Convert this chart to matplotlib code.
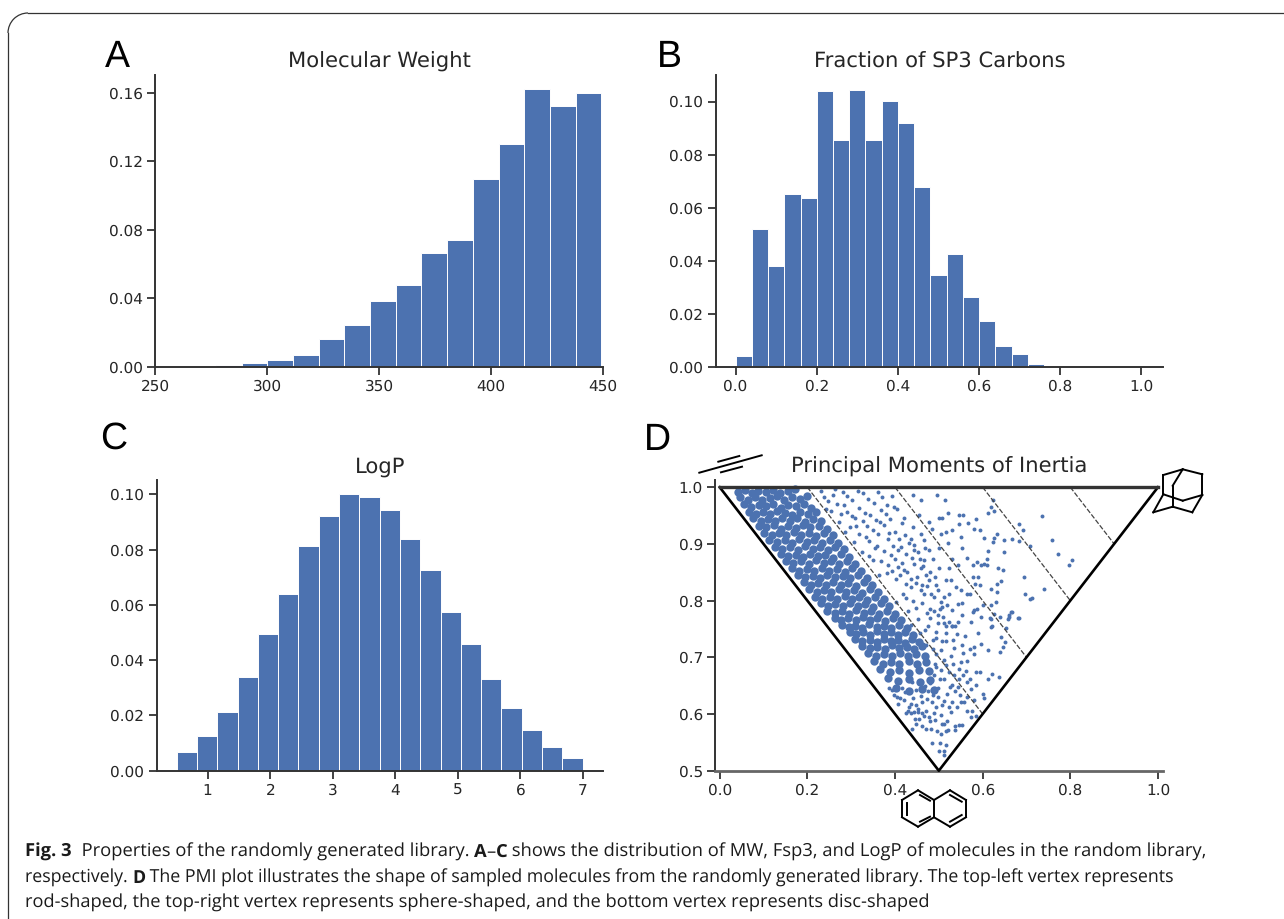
import numpy as np
import matplotlib
matplotlib.use("Agg")
import matplotlib.pyplot as plt
from matplotlib.patches import Arc

W, H = 1284, 919
BLUE = "#4c72b0"
TEXT = "#262626"

# panel A
mw_start, mw_width = 277.2, 11.47
mw_heights = [0.001, 0.0021, 0.0042, 0.0068, 0.0165, 0.0245, 0.0385, 0.048, 0.0665,
              0.074, 0.1097, 0.13, 0.1622, 0.1525, 0.1598]
mw_ticks = [250, 300, 350, 400, 450]
mw_yticks = [0.00, 0.04, 0.08, 0.12, 0.16]

# panel B
fsp3_start, fsp3_width = 0.0, 0.04
fsp3_heights = [0.0042, 0.052, 0.0381, 0.0651, 0.0635, 0.104, 0.0855, 0.1045, 0.0856,
                0.1003, 0.0921, 0.0677, 0.0347, 0.0425, 0.0265, 0.0173, 0.008, 0.0048, 0.0012]
fsp3_ticks = [0.0, 0.2, 0.4, 0.6, 0.8, 1.0]
fsp3_yticks = [0.00, 0.02, 0.04, 0.06, 0.08, 0.10]

# panel C
logp_start, logp_width = 0.504, 0.3245
logp_heights = [0.0068, 0.0125, 0.0213, 0.034, 0.0494, 0.0641, 0.0813, 0.092, 0.1, 0.0992,
                0.0942, 0.0837, 0.0728, 0.0574, 0.0458, 0.0333, 0.0226, 0.0147, 0.0086, 0.0047]
logp_ticks = [1, 2, 3, 4, 5, 6, 7]
logp_yticks = [0.00, 0.02, 0.04, 0.06, 0.08, 0.10]

# panel D. sparse = single dots, core = the dense band
pmi_sparse = [
    (.736, .949), (.758, .906), (.773, .882), (.803, .871), (.797, .863), (.695, .842), (.739, .821),
    (.697, .812), (.713, .805), (.707, .802), (.684, .935), (.693, .924), (.668, .908), (.684, .905),
    (.649, .907), (.625, .910), (.624, .904), (.649, .885), (.633, .918), (.709, .896), (.613, .954),
    (.626, .958), (.619, .965), (.623, .978), (.585, .944), (.581, .927), (.593, .925), (.602, .911),
    (.613, .887), (.611, .873), (.610, .862), (.636, .857), (.647, .854), (.579, .863), (.596, .863),
    (.588, .868), (.604, .865), (.564, .876), (.554, .893), (.550, .912), (.567, .936), (.546, .935),
    (.546, .951), (.555, .951), (.521, .954), (.508, .946), (.501, .946), (.514, .977), (.495, .987),
    (.459, .977), (.440, .987), (.393, .985), (.578, .842), (.590, .842), (.643, .834), (.632, .830),
    (.620, .821), (.633, .816), (.593, .827), (.582, .830), (.630, .798), (.619, .793), (.666, .780),
    (.661, .774), (.681, .770), (.657, .768), (.640, .771), (.617, .770), (.621, .755), (.579, .780),
    (.600, .792), (.573, .762), (.552, .774), (.554, .795), (.543, .794), (.571, .812), (.550, .818),
    (.539, .824), (.527, .836), (.516, .836), (.565, .812), (.588, .786), (.531, .755), (.512, .760),
    (.497, .775), (.508, .789), (.489, .807), (.512, .807), (.493, .827), (.523, .857), (.501, .857),
    (.481, .851), (.543, .862), (.531, .874), (.520, .901), (.501, .892), (.478, .889), (.466, .907),
    (.485, .927), (.478, .939), (.455, .951), (.504, .918), (.531, .924), (.516, .921), (.459, .918),
    (.440, .930), (.420, .945), (.405, .962), (.436, .909), (.413, .895), (.443, .889), (.466, .871),
    (.443, .865), (.420, .854), (.451, .842), (.478, .836), (.459, .818), (.436, .824), (.481, .786),
    (.462, .795),
    (.485, .549), (.503, .548), (.516, .545), (.500, .534), (.512, .535), (.512, .528), (.439, .574),
    (.447, .582), (.462, .578), (.470, .574), (.483, .574), (.495, .570), (.504, .565), (.516, .570),
    (.521, .572), (.537, .578), (.536, .572), (.546, .580), (.552, .580), (.424, .602), (.429, .606),
    (.436, .601), (.452, .604), (.455, .592), (.461, .601), (.470, .606), (.478, .595), (.488, .601),
    (.504, .598), (.519, .588), (.527, .604), (.542, .612), (.550, .621), (.564, .605), (.575, .605),
    (.573, .594), (.584, .597), (.386, .645), (.398, .633), (.405, .630), (.417, .645), (.420, .624),
    (.436, .617), (.447, .615), (.462, .621), (.473, .627), (.485, .621), (.497, .630), (.508, .615),
    (.519, .636), (.531, .651), (.543, .648), (.565, .657), (.565, .630), (.581, .624), (.601, .636),
    (.603, .628), (.585, .651), (.612, .662), (.585, .674), (.593, .674), (.621, .670), (.637, .665),
    (.581, .706), (.612, .712), (.640, .709), (.596, .724), (.581, .718), (.570, .715), (.646, .718),
    (.650, .727), (.641, .736), (.559, .737), (.589, .742), (.620, .754), (.654, .751), (.660, .771),
    (.665, .780), (.683, .770), (.627, .777), (.620, .768), (.597, .771), (.581, .783), (.543, .762),
    (.531, .756), (.516, .742), (.493, .745), (.486, .730), (.504, .712), (.550, .692), (.523, .674),
    (.546, .680), (.535, .668), (.504, .677), (.493, .683), (.481, .654), (.497, .645), (.458, .654),
    (.447, .642), (.439, .656),
    (.232, .993), (.258, .986), (.281, .991), (.303, .978), (.327, .989), (.352, .972), (.371, .983),
    (.243, .962), (.267, .971), (.291, .957), (.318, .964), (.344, .951), (.368, .960), (.389, .944),
    (.272, .938), (.298, .929), (.326, .941), (.349, .925), (.376, .933), (.401, .921), (.417, .937),
    (.307, .903), (.333, .912), (.358, .897), (.384, .908), (.408, .889), (.431, .902), (.452, .886),
    (.341, .878), (.367, .869), (.391, .881), (.417, .866), (.438, .876), (.463, .861), (.487, .874),
    (.381, .848), (.402, .838), (.428, .851), (.449, .831), (.471, .845), (.497, .819), (.518, .792),
    (.418, .812), (.441, .799), (.467, .811), (.488, .782), (.509, .771), (.529, .783), (.541, .741),
    (.452, .768), (.476, .756), (.498, .761), (.517, .728), (.535, .716), (.552, .722), (.565, .693),
    (.471, .721), (.493, .706), (.512, .695), (.528, .702), (.547, .661), (.561, .676), (.574, .644),
    (.248, .975), (.276, .952), (.309, .946), (.337, .931), (.362, .918), (.395, .897), (.424, .882),
    (.354, .892), (.383, .862), (.411, .846), (.437, .838), (.459, .857), (.483, .812), (.506, .798),
    (.429, .781), (.457, .742), (.472, .778), (.494, .734), (.516, .756), (.532, .731), (.556, .708),
    (.511, .661), (.526, .647), (.488, .668), (.476, .641), (.459, .631), (.441, .628), (.422, .638),
    (.408, .618), (.493, .612), (.531, .622), (.549, .634), (.512, .582), (.479, .587), (.445, .592),
    (.238, .982), (.264, .996), (.291, .984), (.315, .993), (.339, .979), (.361, .991), (.382, .969),
    (.253, .958), (.284, .968), (.302, .949), (.331, .955), (.356, .943), (.379, .952), (.398, .965),
    (.286, .921), (.312, .932), (.318, .918), (.341, .905), (.366, .939), (.387, .919), (.409, .908),
    (.324, .886), (.349, .871), (.375, .887), (.399, .873), (.422, .916), (.444, .898), (.468, .892),
    (.363, .845), (.393, .853), (.408, .859), (.426, .829), (.456, .873), (.473, .826), (.491, .841),
    (.403, .797), (.424, .805), (.447, .787), (.462, .828), (.479, .769), (.502, .785), (.523, .812),
    (.437, .757), (.451, .729), (.469, .748), (.486, .714), (.508, .729), (.524, .762), (.538, .755),
    (.474, .694), (.491, .689), (.503, .661), (.517, .687), (.533, .689), (.555, .668), (.571, .661),
    (.486, .633), (.468, .649), (.453, .609), (.512, .623), (.524, .612), (.538, .641), (.558, .621),
    (.393, .642), (.411, .628), (.431, .612), (.443, .603), (.466, .596), (.491, .589), (.508, .583),
]
pmi_core = [
    (.041, .992), (.057, .995), (.073, .990), (.088, .994), (.106, .991), (.121, .995), (.138, .989), (.156, .993), (.172, .996),
    (.047, .982), (.064, .978), (.081, .983), (.096, .977), (.114, .981), (.130, .984), (.147, .977), (.165, .982), (.183, .979), (.199, .985),
    (.056, .970), (.071, .965), (.089, .969), (.105, .966), (.122, .971), (.139, .964), (.157, .968), (.174, .966), (.192, .971), (.209, .964),
    (.066, .957), (.083, .953), (.098, .956), (.115, .952), (.131, .958), (.149, .954), (.166, .951), (.183, .957), (.201, .953), (.220, .956),
    (.077, .945), (.094, .941), (.110, .944), (.126, .940), (.143, .946), (.160, .941), (.177, .945), (.194, .939), (.212, .944), (.231, .941),
    (.090, .932), (.106, .929), (.123, .933), (.139, .927), (.156, .931), (.173, .928), (.190, .933), (.207, .929), (.226, .931), (.245, .927),
    (.102, .920), (.119, .916), (.135, .919), (.152, .915), (.169, .921), (.186, .916), (.203, .919), (.220, .914), (.238, .919), (.258, .916),
    (.113, .907), (.131, .903), (.148, .906), (.164, .902), (.182, .908), (.199, .903), (.216, .906), (.233, .901), (.251, .907), (.270, .902),
    (.127, .895), (.143, .891), (.160, .894), (.178, .890), (.194, .896), (.212, .891), (.229, .894), (.247, .889), (.264, .895), (.283, .891),
    (.139, .882), (.156, .878), (.173, .881), (.190, .877), (.207, .883), (.224, .878), (.241, .881), (.259, .876), (.277, .882), (.296, .877),
    (.152, .870), (.168, .866), (.186, .869), (.203, .865), (.220, .871), (.237, .866), (.254, .869), (.272, .864), (.290, .870), (.309, .865),
    (.164, .857), (.181, .853), (.199, .856), (.216, .852), (.233, .858), (.250, .853), (.267, .856), (.285, .851), (.303, .857), (.322, .852),
    (.179, .845), (.195, .841), (.212, .844), (.229, .840), (.246, .846), (.263, .841), (.281, .844), (.298, .839), (.316, .845), (.335, .840),
    (.192, .832), (.208, .828), (.225, .831), (.242, .827), (.259, .833), (.276, .828), (.293, .831), (.311, .826), (.329, .832), (.348, .827),
    (.204, .820), (.221, .816), (.238, .819), (.255, .815), (.272, .821), (.289, .816), (.306, .819), (.324, .814), (.342, .820), (.361, .815),
    (.217, .807), (.234, .803), (.251, .806), (.268, .802), (.285, .808), (.302, .803), (.319, .806), (.337, .801), (.355, .807), (.374, .802),
    (.231, .795), (.247, .791), (.264, .794), (.281, .790), (.298, .796), (.315, .791), (.332, .794), (.350, .789), (.368, .795), (.387, .790),
    (.246, .782), (.262, .778), (.278, .781), (.295, .777), (.312, .783), (.329, .778), (.346, .781), (.364, .776), (.382, .782), (.401, .777),
    (.262, .770), (.277, .766), (.293, .769), (.310, .765), (.326, .771), (.343, .766), (.360, .769), (.378, .764), (.396, .770), (.414, .765),
    (.279, .757), (.294, .753), (.309, .756), (.325, .752), (.341, .758), (.358, .753), (.374, .756), (.392, .751), (.409, .757), (.427, .752),
    (.297, .745), (.312, .741), (.327, .744), (.342, .740), (.358, .746), (.374, .741), (.390, .744), (.407, .739), (.423, .745), (.441, .740),
    (.309, .732), (.325, .728), (.343, .731), (.358, .727), (.375, .733), (.391, .728), (.406, .731), (.422, .726), (.438, .732), (.455, .727),
    (.324, .720), (.342, .716), (.359, .719), (.377, .715), (.393, .721), (.410, .716), (.427, .719), (.444, .714), (.462, .720),
    (.338, .707), (.357, .703), (.375, .706), (.393, .702), (.411, .708), (.430, .703), (.447, .706), (.468, .702),
    (.352, .693), (.372, .689), (.391, .692), (.410, .688), (.431, .694), (.451, .689), (.471, .691),
    (.366, .679), (.388, .674), (.409, .678), (.432, .673), (.454, .677), (.478, .675),
    (.385, .663), (.408, .658), (.433, .661), (.456, .657), (.479, .660),
    (.402, .645), (.431, .641), (.462, .644), (.488, .642),
]

# reference lines in the triangle
triangle_x = [0.0, 1.0, 0.5, 0.0]
triangle_y = [1.0, 1.0, 0.5, 1.0]
guide_starts = [0.2, 0.4, 0.6, 0.8]
guide_ends = [0.6, 0.7, 0.8, 0.9]
pmi_ticks = [0.0, 0.2, 0.4, 0.6, 0.8, 1.0]
pmi_yticks = [0.5, 0.6, 0.7, 0.8, 0.9, 1.0]

# molecule sketches, in picture pixels
rod_lines = [((699.3, 472.7), (761.7, 455.3)), ((718.3, 461.7), (739.3, 456.0)), ((721.0, 472.3), (742.0, 466.7))]
adamantane = [
    (1163.3, 475.0), (1182.7, 469.3), (1202.3, 474.3), (1202.3, 495.0), (1192.3, 512.3), (1172.7, 506.7),
    (1153.3, 512.3), (1163.3, 494.3), (1172.7, 485.7), (1182.7, 500.7),
]
adamantane_bonds = [(0, 1), (1, 2), (2, 3), (3, 4), (4, 5), (5, 6), (6, 7), (7, 0), (1, 8), (8, 5), (7, 9), (9, 3)]
naphthalene_lines = [
    ((902, 800), (918, 790.3)), ((918, 790.3), (934, 800)), ((934, 800), (934, 817.3)), ((934, 817.3), (918, 826.7)),
    ((918, 826.7), (902, 817.3)), ((902, 817.3), (902, 800)), ((934, 800), (950, 790.3)), ((950, 790.3), (966, 800)),
    ((966, 800), (966, 817.3)), ((966, 817.3), (950, 826.7)), ((950, 826.7), (934, 817.3)),
    ((906.7, 803.3), (906.7, 814.7)), ((920, 795), (930, 800.7)), ((920, 821.7), (930, 816.7)),
    ((950, 795), (961.7, 801.7)), ((961.7, 815), (950, 821.7)),
]

caption_lines = [
    [("Fig. 3", True), ("  Properties of the randomly generated library. ", False), ("A", True), ("\u2013", False), ("C", True),
     (" shows the distribution of MW, Fsp3, and LogP of molecules in the random library,", False)],
    [("respectively. ", False), ("D", True), (" The PMI plot illustrates the shape of sampled molecules from the randomly generated library. The top-left vertex represents", False)],
    [("rod-shaped, the top-right vertex represents sphere-shaped, and the bottom vertex represents disc-shaped", False)],
]
caption_baselines = [857, 883, 908]
caption_sizes = [13.2, 12.8, 13.13]

plt.rcParams["font.family"] = "DejaVu Sans"
plt.rcParams["text.hinting"] = "no_hinting"
plt.rcParams["text.color"] = TEXT
plt.rcParams["axes.edgecolor"] = "#333333"
plt.rcParams["xtick.color"] = "#333333"
plt.rcParams["ytick.color"] = "#333333"
plt.rcParams["xtick.labelcolor"] = TEXT
plt.rcParams["ytick.labelcolor"] = TEXT
plt.rcParams["xtick.labelsize"] = 11
plt.rcParams["ytick.labelsize"] = 11


def make_axes(fig, left, right, top, bottom):
    ax = fig.add_axes([left / W, 1 - bottom / H, (right - left) / W, (bottom - top) / H])
    ax.spines[["top", "right"]].set_visible(False)
    ax.spines[["left", "bottom"]].set_linewidth(1.4)
    ax.tick_params(length=6, width=1.3, pad=3)
    return ax


def hist_panel(fig, box, xlim, ylim, start, width, heights, xticks, yticks, yfmt, title):
    ax = make_axes(fig, *box)
    edges = start + width * np.arange(len(heights))
    ax.bar(edges, heights, width=width, align="edge", color=BLUE, edgecolor="white", linewidth=0.7)
    ax.set_xlim(xlim)
    ax.set_ylim(ylim)
    ax.set_xticks(xticks)
    ax.set_yticks(yticks, [yfmt.format(v) for v in yticks])
    ax.set_title(title, fontsize=15.2, pad=5, color=TEXT)
    return ax


fig = plt.figure(figsize=(W / 100, H / 100), dpi=100)

hist_panel(fig, (155, 603, 75, 367), (250, 450), (0, 0.1705), mw_start, mw_width, mw_heights,
           mw_ticks, mw_yticks, "{:.2f}", "Molecular Weight")
hist_panel(fig, (715.7, 1163, 75, 367), (-0.049, 1.053), (0, 0.11), fsp3_start, fsp3_width, fsp3_heights,
           fsp3_ticks, fsp3_yticks, "{:.2f}", "Fraction of SP3 Carbons")
hist_panel(fig, (156.7, 603, 480, 770.7), (0.185, 7.32), (0, 0.1052), logp_start, logp_width, logp_heights,
           logp_ticks, logp_yticks, "{:.2f}", "LogP")

ax = make_axes(fig, 715.3, 1163, 480, 770.7)
ax.set_xlim(-0.01, 1.0115)
ax.set_ylim(0.5, 1.0127)
core = np.array(pmi_core)
sparse = np.array(pmi_sparse)
ax.scatter(core[:, 0], core[:, 1], s=36, color=BLUE, linewidths=0, zorder=2)
ax.scatter(sparse[:, 0], sparse[:, 1], s=8, color=BLUE, linewidths=0, zorder=2)
for x0, x1 in zip(guide_starts, guide_ends):
    ax.plot([x0, x1], [1.0, x1], color="#444444", lw=0.9, ls=(0, (4, 1.5)), zorder=3)
ax.plot(triangle_x[1:], triangle_y[1:], color="black", lw=1.9, zorder=4, clip_on=False)
ax.plot(triangle_x[:2], triangle_y[:2], color="#333333", lw=2.4, zorder=4, clip_on=False)
ax.set_xticks(pmi_ticks, [f"{v:.1f}" for v in pmi_ticks])
ax.set_yticks(pmi_yticks, [f"{v:.1f}" for v in pmi_yticks])
ax.spines["bottom"].set_color("#666666")
ax.spines["bottom"].set_linewidth(2)
ax.set_title("Principal Moments of Inertia", fontsize=15.2, pad=5, color=TEXT)

# pixel overlay for letters, sketches, frame and caption
over = fig.add_axes([0, 0, 1, 1], facecolor="none", zorder=10)
over.set_xlim(0, W)
over.set_ylim(H, 0)
over.axis("off")

for letter, x, y in [("A", 117, 57), ("B", 669, 57), ("C", 114, 439), ("D", 657, 440)]:
    over.text(x, y, letter, fontsize=27, family="Liberation Sans", color="black", ha="center", va="center")

for (x0, y0), (x1, y1) in rod_lines:
    over.plot([x0, x1], [y0, y1], color="black", lw=1.4)
for i, j in adamantane_bonds:
    over.plot([adamantane[i][0], adamantane[j][0]], [adamantane[i][1], adamantane[j][1]], color="black", lw=1.4)
for (x0, y0), (x1, y1) in naphthalene_lines:
    over.plot([x0, x1], [y0, y1], color="black", lw=1.4)

over.plot([8, 8], [33, H], color="#333333", lw=0.9)
over.plot([28, W], [13, 13], color="#333333", lw=0.9)
over.add_patch(Arc((28, 33), 40, 40, theta1=180, theta2=270, color="#333333", lw=0.9))

renderer = fig.canvas.get_renderer()
for runs, base, size in zip(caption_lines, caption_baselines, caption_sizes):
    x = 25
    for text, bold in runs:
        t = over.text(x, base, text, fontsize=size, color="#1a1a1a", va="baseline", ha="left",
                      family="Open Sans", weight="bold" if bold else "normal")
        x += t.get_window_extent(renderer).width

fig.savefig("out.png", dpi=100)
